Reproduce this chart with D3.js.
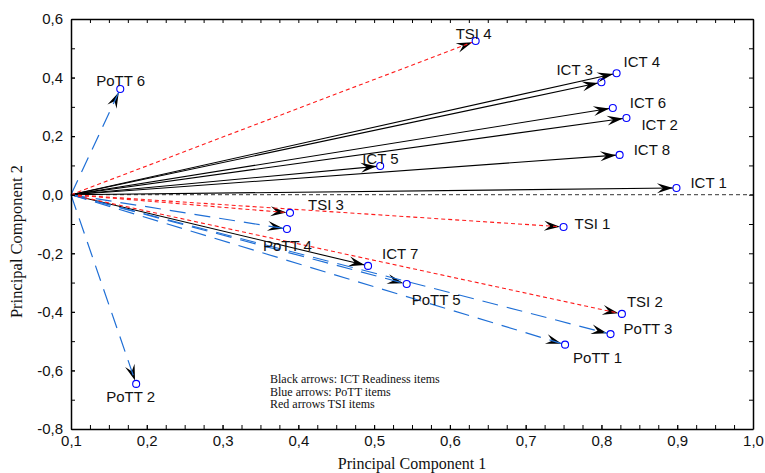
<!DOCTYPE html>
<html>
<head>
<meta charset="utf-8">
<script src="https://cdn.jsdelivr.net/npm/d3@7"></script>
<style>
  body { margin: 0; background: #fff; }
  svg { display: block; }
</style>
</head>
<body>
<div id="chart"></div>
<script>
// loadings (PC1, PC2)
const ictNames = ["ICT 1", "ICT 2", "ICT 3", "ICT 4", "ICT 5", "ICT 6", "ICT 7", "ICT 8"];
const ictPC1 = [0.899, 0.833, 0.800, 0.820, 0.508, 0.815, 0.492, 0.824];
const ictPC2 = [0.023, 0.262, 0.384, 0.415, 0.098, 0.296, -0.243, 0.136];

const pottNames = ["PoTT 1", "PoTT 2", "PoTT 3", "PoTT 4", "PoTT 5", "PoTT 6"];
const pottPC1 = [0.752, 0.186, 0.812, 0.385, 0.543, 0.165];
const pottPC2 = [-0.512, -0.646, -0.476, -0.117, -0.305, 0.361];

const tsiNames = ["TSI 1", "TSI 2", "TSI 3", "TSI 4"];
const tsiPC1 = [0.750, 0.827, 0.389, 0.634];
const tsiPC2 = [-0.110, -0.407, -0.062, 0.525];

const origin = [0.1, 0.0];
const xTicks = [0.1, 0.2, 0.3, 0.4, 0.5, 0.6, 0.7, 0.8, 0.9, 1.0];
const yTicks = [-0.8, -0.6, -0.4, -0.2, 0.0, 0.2, 0.4, 0.6];
const legendLines = ["Black arrows: ICT Readiness items", "Blue arrows: PoTT items", "Red arrows TSI items"];

// label nudges in pixels from the end circle
const labelOffset = {
  "ICT 1": [14, 0], "ICT 2": [15, 12], "ICT 3": [-45, -7], "ICT 4": [7, -6],
  "ICT 5": [-18, -2], "ICT 6": [17, 0], "ICT 7": [14, -7], "ICT 8": [14, 0],
  "PoTT 1": [8, 18], "PoTT 2": [-30, 18], "PoTT 3": [13, 0], "PoTT 4": [-24, 22],
  "PoTT 5": [5, 21], "PoTT 6": [-24, -3],
  "TSI 1": [11, 2], "TSI 2": [5, -7], "TSI 3": [18, -3], "TSI 4": [-20, -2]
};

const WIDTH = 765, HEIGHT = 473;
const margin = { top: 19, right: 12, bottom: 44, left: 71 };

const x = d3.scaleLinear().domain([0.1, 1.0]).range([margin.left, WIDTH - margin.right]);
const y = d3.scaleLinear().domain([-0.8, 0.6]).range([HEIGHT - margin.bottom, margin.top]);

const loc = d3.formatLocale({ decimal: ",", thousands: ".", grouping: [3], currency: ["", ""], minus: "-" });
const fmt = loc.format(".1f");

const groups = [
  { names: ictNames, pc1: ictPC1, pc2: ictPC2, color: "#000000", dash: null, width: 1.1 },
  { names: pottNames, pc1: pottPC1, pc2: pottPC2, color: "#1f6fd6", dash: "16,9", width: 1.2 },
  { names: tsiNames, pc1: tsiPC1, pc2: tsiPC2, color: "#ff1a1a", dash: "4,3", width: 1.1 }
];

const items = [];
groups.forEach(g => {
  g.names.forEach((n, i) => items.push({ name: n, x: g.pc1[i], y: g.pc2[i], color: g.color, dash: g.dash, width: g.width }));
});

const svg = d3.select("#chart").append("svg")
  .attr("width", WIDTH)
  .attr("height", HEIGHT);

const tickFont = "'Liberation Sans', Arial, sans-serif";
const serif = "'Liberation Serif', 'Times New Roman', serif";

// zero reference line
svg.append("line")
  .attr("x1", x(0.1)).attr("x2", x(1.0))
  .attr("y1", y(0)).attr("y2", y(0))
  .attr("stroke", "#333")
  .attr("stroke-width", 1)
  .attr("stroke-dasharray", "4,3");

// arrows
const r = 3.5;
const ox = x(origin[0]), oy = y(origin[1]);
items.forEach(d => {
  const ex = x(d.x), ey = y(d.y);
  const ang = Math.atan2(ey - oy, ex - ox);
  d.tipX = ex - r * Math.cos(ang);
  d.tipY = ey - r * Math.sin(ang);
  d.ang = ang * 180 / Math.PI;
});

const arrows = svg.append("g");

arrows.selectAll(".head")
  .data(items)
  .enter().append("path")
  .attr("class", "head")
  .attr("d", "M0,0 L-16,-5 L-10,0 L-16,5 Z")
  .attr("fill", "#000")
  .attr("transform", d => `translate(${d.tipX},${d.tipY}) rotate(${d.ang})`);

arrows.selectAll(".shaft")
  .data(items)
  .enter().append("line")
  .attr("class", "shaft")
  .attr("x1", ox).attr("y1", oy)
  .attr("x2", d => d.tipX).attr("y2", d => d.tipY)
  .attr("stroke", d => d.color)
  .attr("stroke-width", d => d.width)
  .attr("stroke-dasharray", d => d.dash);

svg.selectAll(".end")
  .data(items)
  .enter().append("circle")
  .attr("class", "end")
  .attr("cx", d => x(d.x))
  .attr("cy", d => y(d.y))
  .attr("r", r)
  .attr("fill", "none")
  .attr("stroke", "#0000ff")
  .attr("stroke-width", 1.1);

svg.selectAll(".lbl")
  .data(items)
  .enter().append("text")
  .attr("class", "lbl")
  .attr("x", d => x(d.x) + labelOffset[d.name][0])
  .attr("y", d => y(d.y) + labelOffset[d.name][1])
  .style("font-family", tickFont)
  .style("font-size", "15px")
  .attr("fill", "#111")
  .text(d => d.name);

// axes: major + minor ticks pointing inwards, mirrored on top/right
const xMinor = d3.range(0.1, 1.0001, 0.025);
const yMinor = d3.range(-0.8, 0.6001, 0.1);

function styleAxis(g) {
  g.selectAll("path.domain").attr("stroke", "#000").attr("stroke-width", 1.5);
  g.selectAll(".tick line").attr("stroke", "#000").attr("stroke-width", 1);
  g.selectAll("text")
    .style("font-family", tickFont)
    .style("font-size", "15px")
    .attr("fill", "#111");
}

svg.append("g")
  .attr("transform", `translate(0,${y(-0.8)})`)
  .call(d3.axisBottom(x).tickValues(xMinor).tickSize(-4).tickSizeOuter(0).tickFormat(""))
  .call(styleAxis);
svg.append("g")
  .attr("transform", `translate(0,${y(-0.8)})`)
  .call(d3.axisBottom(x).tickValues(xTicks).tickSize(-4).tickSizeOuter(0).tickPadding(6).tickFormat(fmt))
  .call(styleAxis)
  .call(g => g.select("path.domain").remove());

svg.append("g")
  .attr("transform", `translate(0,${y(0.6)})`)
  .call(d3.axisTop(x).tickValues(xMinor).tickSize(-4).tickSizeOuter(0).tickFormat(""))
  .call(styleAxis);

svg.append("g")
  .attr("transform", `translate(${x(0.1)},0)`)
  .call(d3.axisLeft(y).tickValues(yMinor).tickSize(-4).tickSizeOuter(0).tickFormat(""))
  .call(styleAxis);
svg.append("g")
  .attr("transform", `translate(${x(0.1)},0)`)
  .call(d3.axisLeft(y).tickValues(yTicks).tickSize(-4).tickSizeOuter(0).tickPadding(8).tickFormat(fmt))
  .call(styleAxis)
  .call(g => g.select("path.domain").remove());

svg.append("g")
  .attr("transform", `translate(${x(1.0)},0)`)
  .call(d3.axisRight(y).tickValues(yMinor).tickSize(-4).tickSizeOuter(0).tickFormat(""))
  .call(styleAxis);

// axis titles
svg.append("text")
  .attr("x", (x(0.1) + x(1.0)) / 2)
  .attr("y", 469)
  .attr("text-anchor", "middle")
  .style("font-family", serif)
  .style("font-size", "16px")
  .attr("fill", "#111")
  .text("Principal Component 1");

svg.append("text")
  .attr("transform", `translate(22,${y(-0.16)}) rotate(-90)`)
  .attr("text-anchor", "middle")
  .style("font-family", serif)
  .style("font-size", "16.5px")
  .attr("fill", "#111")
  .text("Principal Component 2");

// legend note
svg.append("g")
  .selectAll("text")
  .data(legendLines)
  .enter().append("text")
  .attr("x", 270)
  .attr("y", (d, i) => 383 + i * 12.5)
  .style("font-family", serif)
  .style("font-size", "12px")
  .attr("fill", "#111")
  .text(d => d);
</script>
</body>
</html>
